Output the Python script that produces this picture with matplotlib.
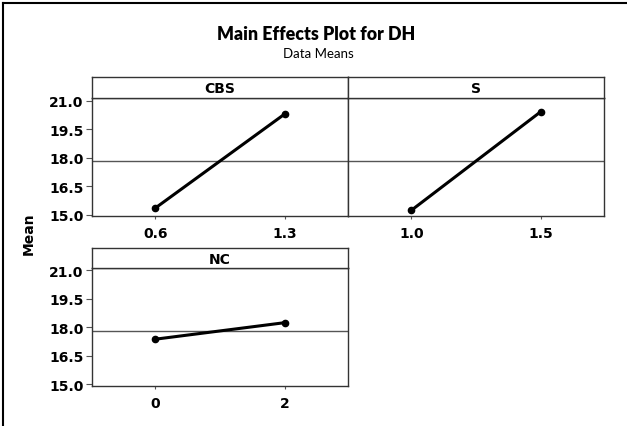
import matplotlib
matplotlib.use("Agg")
import matplotlib.pyplot as plt
from matplotlib.lines import Line2D

# level means
factors = ["CBS", "S", "NC"]
cbs_levels = ["0.6", "1.3"]
cbs_means = [15.35, 20.30]
s_levels = ["1.0", "1.5"]
s_means = [15.23, 20.42]
nc_levels = ["0", "2"]
nc_means = [17.38, 18.25]
grand_mean = 17.82
y_ticks = [15.0, 16.5, 18.0, 19.5, 21.0]

W, H = 627, 427
fig = plt.figure(figsize=(W / 100, H / 100), dpi=100)


def px_rect(x0, y0, x1, y1):
    # pixel box (top-left origin) -> figure fraction [left, bottom, width, height]
    return [x0 / W, 1 - y1 / H, (x1 - x0) / W, (y1 - y0) / H]


def panel(x0, x1, strip_top, data_top, data_bot, name, levels, means, show_y):
    ax = fig.add_axes(px_rect(x0, data_top, x1, data_bot))
    pos = list(range(len(levels)))
    ax.axhline(grand_mean, color="#555555", lw=1.0, zorder=1)
    ax.plot(pos, means, color="black", lw=2.2, marker="o", ms=4.5, zorder=3)
    ax.set_xlim(-0.49, 1.49)
    ax.set_ylim(14.93, 21.13)
    ax.set_xticks(pos)
    ax.set_xticklabels(levels, fontsize=10, fontweight="bold")
    ax.set_yticks(y_ticks)
    ax.set_yticklabels([f"{v:.1f}" for v in y_ticks], fontsize=10, fontweight="bold")
    ax.tick_params(axis="x", length=2.5, pad=5, color="#555555")
    ax.tick_params(axis="y", length=4, pad=2, color="#555555")
    if not show_y:
        ax.tick_params(axis="y", left=False, labelleft=False)
    for sp in ax.spines.values():
        sp.set_color("#333333")
        sp.set_linewidth(1.0)

    sx = fig.add_axes(px_rect(x0, strip_top, x1, data_top))
    sx.set_xticks([])
    sx.set_yticks([])
    for sp in sx.spines.values():
        sp.set_color("#333333")
        sp.set_linewidth(1.0)
    sx.text(0.5, 0.48, name, ha="center", va="center", fontsize=10,
            fontweight="bold", transform=sx.transAxes)
    return ax


panel(92, 348, 78, 99.3, 217, factors[0], cbs_levels, cbs_means, True)
panel(348, 604, 78, 99.3, 217, factors[1], s_levels, s_means, False)
panel(92, 348, 249.3, 269, 386.7, factors[2], nc_levels, nc_means, True)

fig.text(316 / W, 1 - 34 / H, "Main Effects Plot for DH", ha="center", va="center",
         fontsize=12.8, fontweight="heavy", family="Lato")
fig.text(318 / W, 1 - 54 / H, "Data Means", ha="center", va="center",
         fontsize=9.5, family="Lato")
fig.text(29 / W, 1 - 234 / H, "Mean", ha="center", va="center", rotation=90,
         fontsize=10, fontweight="bold")

# frame of the screenshot (left and top edges only)
fig.add_artist(Line2D([3 / W, 3 / W], [0, 1 - 4 / H], color="black", lw=1.5,
                      transform=fig.transFigure))
fig.add_artist(Line2D([3 / W, 1], [1 - 4 / H, 1 - 4 / H], color="black", lw=1.5,
                      transform=fig.transFigure))

fig.savefig("out.png", dpi=100)
